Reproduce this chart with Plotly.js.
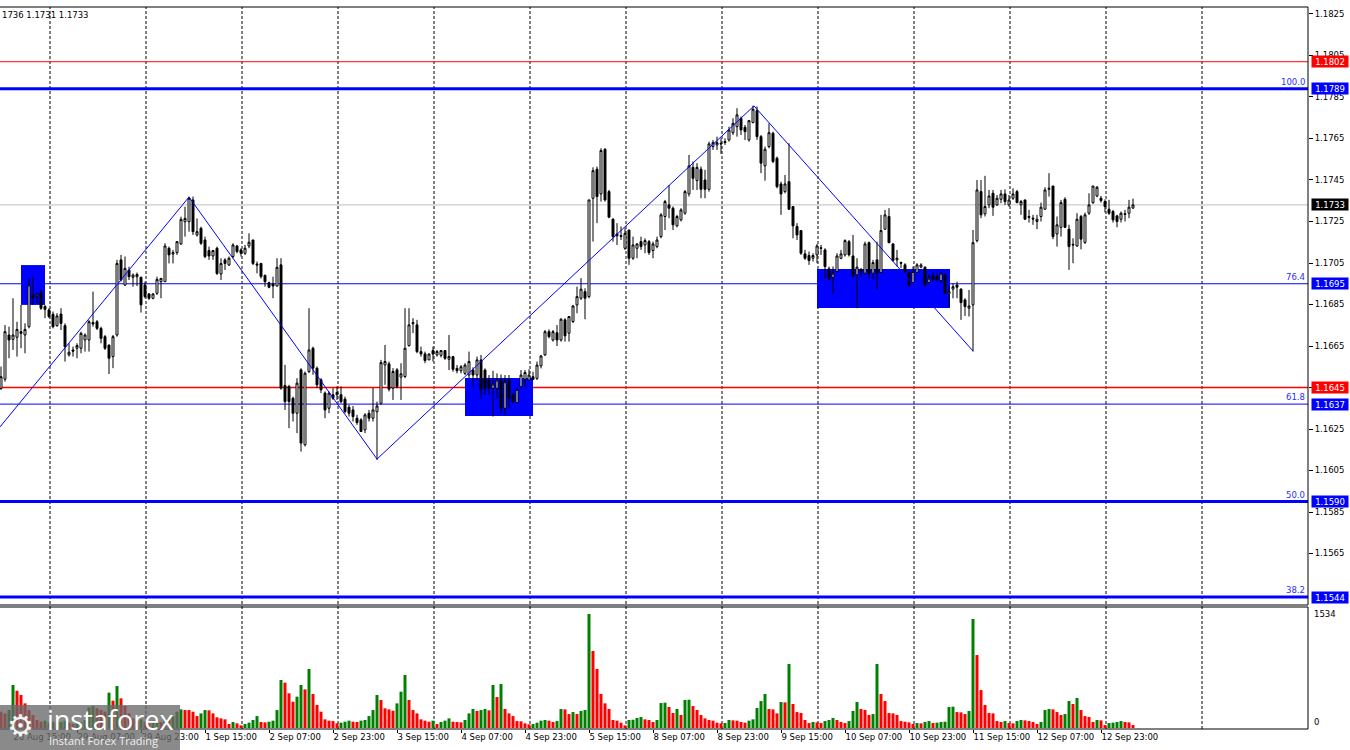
<!DOCTYPE html>
<html><head><meta charset="utf-8">
<script src="https://cdn.plot.ly/plotly-3.0.1.min.js"></script>
<style>html,body{margin:0;padding:0;background:#fff;overflow:hidden}#chart{width:1350px;height:750px}</style>
</head><body><div id="chart"></div>
<script>
// ---------- DATA (EURUSD H1, 28 Aug 12:00 .. 15 Sep 07:00) ----------
const open = [1.16446,1.16490,1.16703,1.16682,1.16692,1.16719,1.16703,1.16743,1.16896,1.16891,
1.16909,1.16840,1.16824,1.16803,1.16748,1.16804,1.16748,1.16607,1.16631,1.16639,
1.16639,1.16679,1.16679,1.16763,1.16767,1.16735,1.16695,1.16655,1.16599,1.16703,
1.17065,1.16944,1.17016,1.16981,1.16984,1.16981,1.16944,1.16901,1.16880,1.16904,
1.16960,1.16960,1.17121,1.17093,1.17100,1.17142,1.17249,1.17249,1.17354,1.17185,
1.17217,1.17161,1.17110,1.17084,1.17121,1.16997,1.17065,1.17040,1.17081,1.17132,
1.17113,1.17097,1.17132,1.17161,1.17045,1.17048,1.16990,1.16955,1.16949,1.16939,
1.17041,1.16460,1.16455,1.16398,1.16326,1.16535,1.16174,1.16527,1.16639,1.16543,
1.16487,1.16423,1.16350,1.16415,1.16415,1.16415,1.16394,1.16355,1.16342,1.16302,
1.16294,1.16246,1.16326,1.16302,1.16333,1.16374,1.16559,1.16564,1.16447,1.16535,
1.16500,1.16503,1.16652,1.16757,1.16752,1.16623,1.16612,1.16583,1.16628,1.16607,
1.16605,1.16628,1.16586,1.16599,1.16542,1.16531,1.16518,1.16510,1.16534,1.16510,
1.16583,1.16534,1.16486,1.16446,1.16446,1.16489,1.16350,1.16489,1.16414,1.16377,
1.16454,1.16489,1.16486,1.16502,1.16494,1.16554,1.16607,1.16719,1.16679,1.16714,
1.16679,1.16776,1.16712,1.16768,1.16848,1.16880,1.16912,1.16888,1.17362,1.17502,
1.17383,1.17598,1.17394,1.17261,1.17190,1.17182,1.17121,1.17209,1.17073,1.17121,
1.17153,1.17137,1.17153,1.17110,1.17129,1.17177,1.17274,1.17330,1.17314,1.17229,
1.17258,1.17290,1.17383,1.17511,1.17447,1.17502,1.17450,1.17405,1.17611,1.17619,
1.17627,1.17630,1.17643,1.17678,1.17707,1.17747,1.17704,1.17643,1.17727,1.17784,
1.17659,1.17518,1.17611,1.17675,1.17555,1.17431,1.17394,1.17442,1.17322,1.17226,
1.17206,1.17094,1.17086,1.17073,1.17089,1.17123,1.17113,1.17022,1.16981,1.17009,
1.17073,1.17089,1.17153,1.17084,1.16993,1.17020,1.17001,1.17148,1.17001,1.17065,
1.17004,1.17213,1.17274,1.17142,1.17065,1.17052,1.17041,1.17004,1.16956,1.17004,
1.17030,1.17030,1.16956,1.16988,1.16985,1.16965,1.16993,1.16901,1.16924,1.16944,
1.16924,1.16872,1.16832,1.16848,1.17158,1.17394,1.17287,1.17330,1.17386,1.17330,
1.17357,1.17383,1.17330,1.17362,1.17394,1.17330,1.17354,1.17274,1.17266,1.17250,
1.17274,1.17309,1.17405,1.17421,1.17190,1.17222,1.17357,1.17213,1.17140,1.17132,
1.17274,1.17149,1.17290,1.17341,1.17373,1.17362,1.17346,1.17309,1.17298,1.17277,
1.17261,1.17284,1.17290,1.17315];
const high = [1.16551,1.16751,1.16743,1.16880,1.16767,1.16848,1.16759,1.16976,1.16984,1.16904,
1.16920,1.16848,1.16832,1.16816,1.16808,1.16832,1.16759,1.16663,1.16647,1.16663,
1.16719,1.16711,1.16775,1.16912,1.16775,1.16743,1.16703,1.16655,1.16703,1.17065,
1.17089,1.17081,1.17032,1.17000,1.17004,1.16984,1.16960,1.16904,1.16904,1.16984,
1.16976,1.17145,1.17129,1.17113,1.17153,1.17273,1.17321,1.17370,1.17370,1.17265,
1.17225,1.17177,1.17129,1.17113,1.17129,1.17073,1.17073,1.17081,1.17145,1.17137,
1.17121,1.17137,1.17193,1.17161,1.17057,1.17048,1.16995,1.16960,1.16984,1.17073,
1.17073,1.16559,1.16463,1.16406,1.16495,1.16543,1.16527,1.16832,1.16647,1.16551,
1.16495,1.16431,1.16431,1.16447,1.16455,1.16455,1.16406,1.16366,1.16361,1.16318,
1.16302,1.16326,1.16342,1.16447,1.16382,1.16583,1.16655,1.16575,1.16543,1.16543,
1.16567,1.16832,1.16832,1.16784,1.16776,1.16647,1.16623,1.16615,1.16647,1.16631,
1.16631,1.16631,1.16703,1.16602,1.16558,1.16558,1.16567,1.16623,1.16547,1.16599,
1.16607,1.16542,1.16510,1.16531,1.16518,1.16513,1.16510,1.16510,1.16422,1.16446,
1.16534,1.16534,1.16538,1.16526,1.16575,1.16607,1.16727,1.16730,1.16727,1.16751,
1.16784,1.16784,1.16792,1.16848,1.16936,1.16977,1.16928,1.17354,1.17511,1.17515,
1.17603,1.17603,1.17402,1.17266,1.17242,1.17226,1.17218,1.17209,1.17177,1.17145,
1.17177,1.17169,1.17161,1.17153,1.17177,1.17290,1.17354,1.17426,1.17322,1.17282,
1.17314,1.17402,1.17571,1.17539,1.17531,1.17515,1.17499,1.17635,1.17643,1.17659,
1.17651,1.17651,1.17707,1.17747,1.17796,1.17756,1.17715,1.17739,1.17808,1.17804,
1.17667,1.17611,1.17723,1.17683,1.17563,1.17442,1.17474,1.17627,1.17322,1.17242,
1.17209,1.17113,1.17105,1.17097,1.17142,1.17137,1.17121,1.17033,1.17033,1.17097,
1.17113,1.17164,1.17161,1.17185,1.17073,1.17025,1.17153,1.17153,1.17065,1.17153,
1.17282,1.17306,1.17314,1.17145,1.17113,1.17057,1.17049,1.17009,1.17033,1.17049,
1.17049,1.17033,1.16993,1.17004,1.17009,1.17004,1.17001,1.16936,1.16952,1.16960,
1.16928,1.16880,1.16920,1.17209,1.17450,1.17450,1.17470,1.17402,1.17402,1.17378,
1.17402,1.17405,1.17378,1.17410,1.17402,1.17354,1.17354,1.17306,1.17282,1.17282,
1.17341,1.17415,1.17483,1.17421,1.17274,1.17354,1.17367,1.17234,1.17169,1.17290,
1.17282,1.17293,1.17386,1.17421,1.17421,1.17373,1.17357,1.17354,1.17306,1.17282,
1.17298,1.17306,1.17354,1.17360];
const low = [1.16438,1.16478,1.16591,1.16631,1.16599,1.16639,1.16615,1.16735,1.16848,1.16856,
1.16824,1.16784,1.16784,1.16735,1.16743,1.16727,1.16575,1.16599,1.16599,1.16591,
1.16615,1.16623,1.16623,1.16743,1.16727,1.16663,1.16631,1.16515,1.16543,1.16695,
1.16960,1.16939,1.16968,1.16936,1.16939,1.16811,1.16880,1.16872,1.16875,1.16896,
1.16880,1.16960,1.17048,1.17048,1.17089,1.17137,1.17177,1.17201,1.17185,1.17177,
1.17137,1.17073,1.17065,1.17065,1.16992,1.16968,1.17016,1.17036,1.17073,1.17097,
1.17081,1.17089,1.17121,1.17040,1.17000,1.16975,1.16936,1.16928,1.16880,1.16936,
1.16439,1.16342,1.16254,1.16286,1.16230,1.16141,1.16166,1.16519,1.16511,1.16447,
1.16423,1.16302,1.16326,1.16390,1.16390,1.16374,1.16326,1.16310,1.16286,1.16270,
1.16238,1.16230,1.16286,1.16286,1.16101,1.16366,1.16463,1.16431,1.16390,1.16447,
1.16390,1.16495,1.16647,1.16712,1.16615,1.16599,1.16567,1.16583,1.16575,1.16599,
1.16595,1.16583,1.16534,1.16526,1.16518,1.16518,1.16510,1.16494,1.16454,1.16486,
1.16398,1.16414,1.16414,1.16310,1.16398,1.16326,1.16318,1.16350,1.16374,1.16374,
1.16446,1.16454,1.16486,1.16486,1.16486,1.16542,1.16602,1.16687,1.16671,1.16650,
1.16671,1.16671,1.16671,1.16760,1.16808,1.16872,1.16779,1.16880,1.17153,1.17242,
1.17346,1.17346,1.17266,1.17153,1.17137,1.17161,1.17113,1.17041,1.17065,1.17073,
1.17113,1.17097,1.17089,1.17073,1.17121,1.17169,1.17209,1.17266,1.17209,1.17222,
1.17250,1.17282,1.17370,1.17402,1.17402,1.17362,1.17362,1.17394,1.17595,1.17595,
1.17576,1.17619,1.17635,1.17667,1.17659,1.17667,1.17643,1.17635,1.17723,1.17643,
1.17483,1.17447,1.17603,1.17531,1.17410,1.17282,1.17386,1.17306,1.17169,1.17161,
1.17089,1.17065,1.17041,1.17057,1.17049,1.17089,1.16977,1.16969,1.16901,1.17004,
1.17068,1.17081,1.17081,1.16981,1.16832,1.16985,1.16993,1.16977,1.16969,1.16924,
1.17001,1.17209,1.17145,1.17057,1.17033,1.17025,1.17001,1.16936,1.16953,1.17001,
1.17025,1.16936,1.16953,1.16961,1.16961,1.16956,1.16901,1.16840,1.16880,1.16880,
1.16776,1.16795,1.16792,1.16623,1.17149,1.17266,1.17274,1.17314,1.17277,1.17325,
1.17338,1.17330,1.17322,1.17354,1.17338,1.17282,1.17258,1.17245,1.17234,1.17213,
1.17250,1.17306,1.17370,1.17165,1.17129,1.17177,1.17218,1.17017,1.17049,1.17129,
1.17116,1.17142,1.17282,1.17335,1.17367,1.17341,1.17293,1.17282,1.17245,1.17222,
1.17245,1.17250,1.17266,1.17310];
const close = [1.16502,1.16719,1.16679,1.16703,1.16730,1.16711,1.16730,1.16944,1.16880,1.16901,
1.16832,1.16827,1.16792,1.16743,1.16795,1.16759,1.16647,1.16620,1.16625,1.16652,
1.16711,1.16703,1.16767,1.16756,1.16735,1.16687,1.16639,1.16591,1.16695,1.17048,
1.16968,1.17024,1.16984,1.16992,1.16995,1.16848,1.16888,1.16880,1.16901,1.16971,
1.16976,1.17132,1.17089,1.17100,1.17153,1.17260,1.17265,1.17362,1.17201,1.17201,
1.17145,1.17081,1.17084,1.17110,1.17000,1.17048,1.17048,1.17073,1.17137,1.17105,
1.17097,1.17121,1.17150,1.17048,1.17040,1.16985,1.16960,1.16933,1.16939,1.17029,
1.16447,1.16382,1.16382,1.16326,1.16471,1.16182,1.16519,1.16631,1.16543,1.16463,
1.16439,1.16342,1.16423,1.16398,1.16426,1.16382,1.16334,1.16326,1.16310,1.16281,
1.16238,1.16318,1.16302,1.16342,1.16361,1.16570,1.16575,1.16442,1.16527,1.16455,
1.16516,1.16639,1.16752,1.16763,1.16623,1.16612,1.16580,1.16611,1.16611,1.16623,
1.16628,1.16591,1.16599,1.16538,1.16531,1.16550,1.16558,1.16575,1.16510,1.16583,
1.16438,1.16446,1.16446,1.16467,1.16486,1.16350,1.16478,1.16398,1.16382,1.16441,
1.16510,1.16522,1.16510,1.16489,1.16558,1.16602,1.16719,1.16695,1.16719,1.16679,
1.16779,1.16699,1.16792,1.16843,1.16888,1.16924,1.16880,1.17354,1.17495,1.17370,
1.17592,1.17354,1.17271,1.17177,1.17181,1.17178,1.17193,1.17073,1.17137,1.17142,
1.17129,1.17158,1.17100,1.17142,1.17161,1.17282,1.17346,1.17314,1.17234,1.17274,
1.17306,1.17394,1.17518,1.17458,1.17511,1.17405,1.17405,1.17624,1.17630,1.17630,
1.17624,1.17635,1.17691,1.17723,1.17764,1.17691,1.17683,1.17736,1.17791,1.17659,
1.17531,1.17598,1.17678,1.17539,1.17418,1.17383,1.17431,1.17309,1.17229,1.17185,
1.17097,1.17073,1.17062,1.17086,1.17132,1.17121,1.17033,1.16972,1.17001,1.17084,
1.17094,1.17158,1.17089,1.16985,1.17030,1.17009,1.17142,1.17001,1.17052,1.17001,
1.17206,1.17282,1.17148,1.17062,1.17073,1.17049,1.17009,1.16944,1.17009,1.17041,
1.17041,1.16944,1.16977,1.16972,1.16969,1.17001,1.16904,1.16912,1.16936,1.16933,
1.16859,1.16840,1.16843,1.17148,1.17402,1.17282,1.17322,1.17373,1.17319,1.17362,
1.17383,1.17346,1.17354,1.17383,1.17341,1.17346,1.17261,1.17270,1.17262,1.17261,
1.17319,1.17402,1.17410,1.17177,1.17234,1.17341,1.17222,1.17129,1.17137,1.17261,
1.17165,1.17282,1.17330,1.17421,1.17415,1.17351,1.17322,1.17290,1.17258,1.17250,
1.17290,1.17287,1.17319,1.17330];
const volume = [220,197,242,579,502,444,332,242,175,108,
85,99,72,85,63,81,99,72,54,63,
81,108,278,296,265,242,220,476,368,565,
399,296,197,130,99,117,85,72,99,108,
81,130,117,153,220,251,242,242,220,161,
197,242,238,197,144,130,117,54,81,63,
36,54,72,108,161,81,76,85,99,242,
646,610,467,354,422,579,520,794,458,310,
220,117,99,94,63,72,85,99,85,81,
99,108,161,242,444,377,265,251,233,332,
489,713,377,242,197,117,99,85,99,54,
81,99,130,85,81,76,108,197,256,229,
242,256,238,579,417,592,256,197,161,94,
90,63,49,54,72,99,108,99,81,94,
256,251,188,215,188,229,242,1534,1036,794,
458,332,256,108,99,72,36,108,112,135,
148,117,108,81,108,336,341,283,202,256,
175,377,381,296,242,175,130,108,99,72,
63,67,108,103,99,81,72,99,117,269,
363,458,256,251,197,350,345,861,323,215,
202,108,67,81,76,67,94,108,135,108,
81,67,94,229,350,256,242,175,188,861,
458,363,202,197,175,94,85,76,54,67,
63,81,94,67,72,81,85,283,287,215,
211,188,229,1467,982,511,310,202,197,94,
81,94,67,63,94,108,103,94,81,54,
81,242,256,251,215,175,188,363,323,404,
242,161,148,81,108,103,40,67,72,81,
94,81,76,40];

// x tick labels (bar index of each label)
const labelIdx = [3,19,35,51,67,83,99,115,131,147,163,179,195,211,227,243,259,275];
const labelText = ["28 Aug 15:00","29 Aug 07:00","29 Aug 23:00","1 Sep 15:00","2 Sep 07:00","2 Sep 23:00",
  "3 Sep 15:00","4 Sep 07:00","4 Sep 23:00","5 Sep 15:00","8 Sep 07:00","8 Sep 23:00","9 Sep 15:00",
  "10 Sep 07:00","10 Sep 23:00","11 Sep 15:00","12 Sep 07:00","12 Sep 23:00"];
const priceTicks = [1.1825,1.1805,1.1785,1.1765,1.1745,1.1725,1.1705,1.1685,1.1665,1.1645,1.1625,1.1605,1.1585,1.1565];
const volumeTicks = [0,1534];

// horizontal levels
const levelValues = [1.1802,1.1789,1.1733,1.1695,1.1645,1.1637,1.1590,1.1544];
const fibLabels = ["100.0","76.4","61.8","50.0","38.2"];
const fibPrices = [1.1789,1.1695,1.1637,1.1590,1.1544];

// zigzag (bar index, price)
const zigX = [-0.25,47,94,188.25,243];
const zigY = [1.16260,1.17368,1.16105,1.17807,1.16626];

// zones (bar index range, price range)
const zoneStart = [5,116,204];
const zoneEnd = [11,133,237.25];
const zoneTop = [1.17040,1.16496,1.17021];
const zoneBottom = [1.16848,1.16313,1.16833];

const ohlcText = "1736 1.1731 1.1733";

// ---------- STYLE / LAYOUT ----------
const PW = 1308, PH = 722;  // plot area size
const levelStyle = [
  {color:'#ff0000', width:1, box:'#ff0000'},
  {color:'#0000ff', width:3, box:'#0000ff'},
  {color:'#c0c0c0', width:1, box:'#000000'},
  {color:'#0000ff', width:1, box:'#0000ff'},
  {color:'#ff0000', width:1.5, box:'#ff0000'},
  {color:'#0000ff', width:1, box:'#0000ff'},
  {color:'#0000ff', width:3, box:'#0000ff'},
  {color:'#0000ff', width:3, box:'#0000ff'}
];

const idx = open.map((_, i) => i);
const volColors = volume.map((v, i) => (i > 0 && v > volume[i-1]) ? '#008000' : '#ff0000');

const traces = [
  {type:'scatter', mode:'lines', x:zigX, y:zigY, xaxis:'x', yaxis:'y',
   line:{color:'#0000ff', width:1}, hoverinfo:'skip'},
  {type:'candlestick', x:idx, open:open, high:high, low:low, close:close, xaxis:'x', yaxis:'y',
   whiskerwidth:0,
   increasing:{line:{color:'#000000', width:1}, fillcolor:'#ffffff'},
   decreasing:{line:{color:'#000000', width:1}, fillcolor:'#000000'},
   hoverinfo:'skip'},
  {type:'bar', x:idx, y:volume, xaxis:'x', yaxis:'y2', width:0.75,
   marker:{color:volColors, line:{width:0}}, hoverinfo:'skip'}
];

const shapes = [];
// dashed vertical grid every 24 bars (ends before the right price scale area)
for (let g = 12.25; g < 310; g += 24) {
  shapes.push({type:'line', xref:'x', yref:'paper', x0:g, x1:g, y0:0, y1:1,
    line:{color:'#000000', width:1, dash:'3px,2px'}, layer:'below'});
}
// zones
zoneStart.forEach((s, k) => {
  shapes.push({type:'rect', xref:'x', yref:'y', x0:s, x1:zoneEnd[k], y0:zoneBottom[k], y1:zoneTop[k],
    fillcolor:'#0000ff', line:{width:0}, layer:'below'});
});
// level lines
levelValues.forEach((v, k) => {
  shapes.push({type:'line', xref:'paper', yref:'y', x0:0, x1:1, y0:v, y1:v,
    line:{color:levelStyle[k].color, width:levelStyle[k].width}, layer:'below'});
});
// pane borders
const priceBottom = (729-605)/PH, volTop = (729-607)/PH;
[[0,1,1,1],[0,1,priceBottom,priceBottom],[1,1,priceBottom,1],
 [0,1,volTop,volTop],[0,1,0,0],[1,1,0,volTop]].forEach(b => {
  shapes.push({type:'line', xref:'paper', yref:'paper', x0:b[0], x1:b[1], y0:b[2], y1:b[3],
    line:{color:'#000000', width:1}, layer:'above'});
});
// logo backdrop
shapes.push({type:'rect', xref:'paper', yref:'paper', x0:0, x1:180/PW, y0:(729-750)/PH, y1:(729-705)/PH,
  fillcolor:'rgba(105,105,105,0.78)', line:{width:0}, layer:'above'});

const annotations = [];
levelValues.forEach((v, k) => {
  annotations.push({xref:'paper', yref:'y', x:1, y:v, xanchor:'left', yanchor:'middle', xshift:3,
    text:v.toFixed(4), showarrow:false, bgcolor:levelStyle[k].box, width:36, height:11, borderpad:0,
    font:{family:'DejaVu Sans', size:8.5, color:'#ffffff'}});
});
fibPrices.forEach((v, k) => {
  annotations.push({xref:'paper', yref:'y', x:1, y:v, xanchor:'right', yanchor:'bottom', xshift:-1, yshift:0,
    text:fibLabels[k], showarrow:false, font:{family:'DejaVu Sans', size:8.5, color:'#2b2bff'}});
});
// volume scale labels (MT4 draws them just above their level)
volumeTicks.forEach(v => {
  annotations.push({xref:'paper', yref:'y2', x:1, y:v, xanchor:'left', yanchor:'middle', xshift:4,
    yshift: v === 0 ? 6 : 0, text:String(v), showarrow:false,
    font:{family:'DejaVu Sans', size:8.5, color:'#000000'}});
});
annotations.push({xref:'paper', yref:'paper', x:0, y:1, xanchor:'left', yanchor:'top', yshift:-1,
  text:ohlcText, showarrow:false, font:{family:'DejaVu Sans', size:8.5, color:'#000000'}});
// logo
annotations.push({xref:'paper', yref:'paper', x:5/PW, y:(729-725)/PH, xanchor:'left', yanchor:'middle',
  text:'⚙', showarrow:false, font:{family:'DejaVu Sans', size:30, color:'#f4f4f4'}});
annotations.push({xref:'paper', yref:'paper', x:45/PW, y:(729-719)/PH, xanchor:'left', yanchor:'middle',
  text:'instaforex', showarrow:false, font:{family:'Open Sans', size:27, color:'#ffffff'}});
annotations.push({xref:'paper', yref:'paper', x:47/PW, y:(729-740)/PH, xanchor:'left', yanchor:'middle',
  text:'Instant Forex Trading', showarrow:false, font:{family:'Open Sans', size:11, color:'#eeeeee'}});

const layout = {
  width:1350, height:750,
  margin:{l:0, r:42, t:7, b:21, pad:0},
  paper_bgcolor:'#ffffff', plot_bgcolor:'#ffffff',
  showlegend:false, dragmode:false,
  font:{family:'DejaVu Sans', size:8.5, color:'#000000'},
  xaxis:{range:[-0.25, 326.75], anchor:'y2', tickvals:labelIdx, ticktext:labelText, tickangle:0,
    ticklabelposition:'outside right', ticks:'outside', ticklen:3, tickcolor:'#000000',
    showgrid:false, zeroline:false, showline:false, rangeslider:{visible:false}, fixedrange:true,
    tickfont:{family:'DejaVu Sans', size:8.5, color:'#000000'}},
  yaxis:{domain:[priceBottom, 1], range:[1.154018, 1.182837], side:'right', anchor:'x',
    tickvals:priceTicks, ticktext:priceTicks.map(v => v.toFixed(4)),
    ticks:'outside', ticklen:4, tickcolor:'#000000', showgrid:false, zeroline:false, showline:false,
    fixedrange:true, tickfont:{family:'DejaVu Sans', size:8.5, color:'#000000'}},
  yaxis2:{domain:[0, volTop], range:[-13, 1628], side:'right', anchor:'x',
    showticklabels:false, ticks:'', showgrid:false, zeroline:false, showline:false, fixedrange:true},
  shapes:shapes, annotations:annotations
};

Plotly.newPlot('chart', traces, layout, {staticPlot:true, displayModeBar:false});
</script></body></html>
